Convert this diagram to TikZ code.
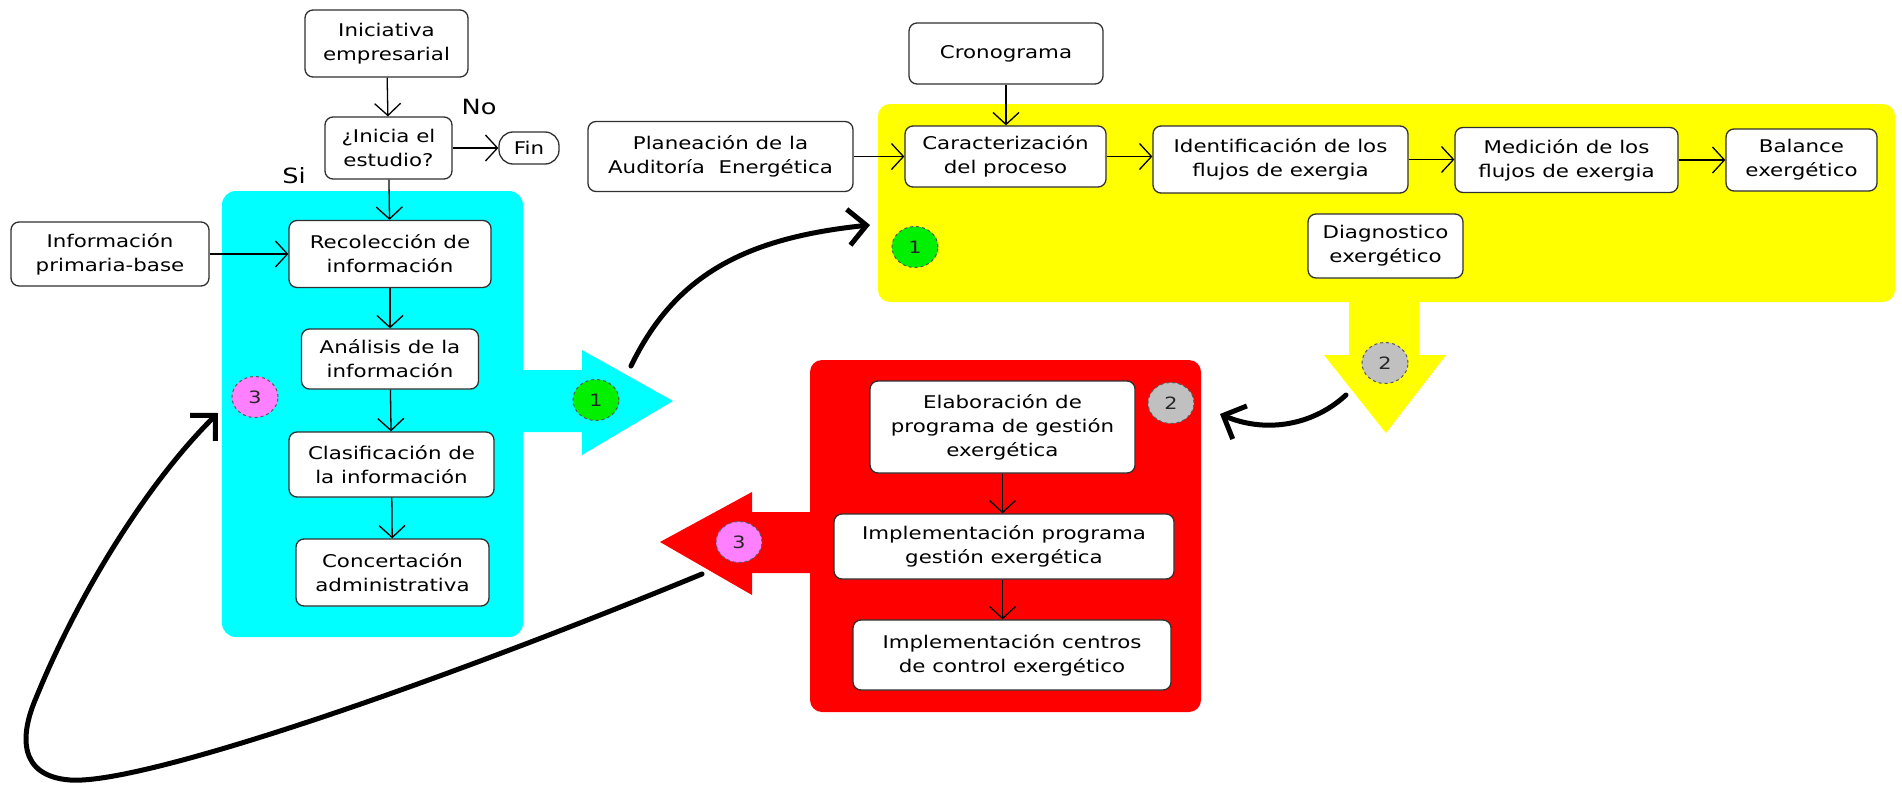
\documentclass[tikz,border=0pt]{standalone}
\usepackage{fontspec}
\setmainfont[FakeStretch=1.22]{DejaVu Sans}
\usetikzlibrary{arrows.meta,shapes.geometric}

\definecolor{panelcyan}{HTML}{00FFFF}
\definecolor{panelyellow}{HTML}{FFFF00}
\definecolor{panelred}{HTML}{FF0000}
\definecolor{markgreen}{HTML}{00F000}
\definecolor{markpink}{HTML}{FF80FF}
\definecolor{markgrey}{HTML}{C0C0C0}
\definecolor{edge}{HTML}{303030}

\begin{document}
\begin{tikzpicture}[x=1pt,y=-1pt,
  box/.style={draw=edge, line width=1.3pt, rounded corners=8pt, fill=white,
    align=center, inner sep=0pt, font=\fontsize{17.5}{24}\selectfont},
  pill/.style={box, rounded corners=14pt},
  link/.style={draw=black, line width=1.3pt,
    -{Straight Barb[length=12pt,width=26pt,line width=1.3pt]}},
  bigcurve/.style={draw=black, line width=5pt, line cap=round,
    -{Straight Barb[length=18pt,width=36pt,line width=5pt]}},
  phasemark/.style={ellipse, draw=black!65, dashed, line width=1pt,
    minimum width=46pt, minimum height=41pt, inner sep=0pt, text=black!85,
    font=\fontsize{17}{17}\selectfont},
  answer/.style={font=\fontsize{21}{21}\selectfont, inner sep=0pt}]

\path[use as bounding box] (0,0) rectangle (1902,784);

% coloured phase panels with their block arrows
\fill[panelcyan, rounded corners=14pt] (222,191) rectangle (523,637);
\fill[panelcyan] (518,370) -- (582,370) -- (582,350) -- (673,401) -- (582,455) -- (582,432) -- (518,432) -- cycle;
\fill[panelyellow, rounded corners=12pt] (878,104) rectangle (1895,302);
\fill[panelyellow] (1349,297) -- (1349,355) -- (1324,355) -- (1386,433) -- (1446,355) -- (1419,355) -- (1419,297) -- cycle;
\fill[panelred, rounded corners=12pt] (810,360) rectangle (1201,712);
\fill[panelred] (815,512) -- (752,512) -- (752,492) -- (660,542) -- (752,595) -- (752,573) -- (815,573) -- cycle;

% phase 1: start and information gathering
\node[box, minimum width=163pt, minimum height=67pt] (ini) at (386.5,43.5) {Iniciativa\\empresarial};
\node[box, minimum width=127pt, minimum height=62pt] (q) at (388.5,148) {¿Inicia el\\estudio?};
\node[pill, minimum width=60pt, minimum height=32pt] (fin) at (529,148) {Fin};
\node[box, minimum width=198pt, minimum height=64pt] (info) at (110,254) {Información\\primaria-base};
\node[box, minimum width=202pt, minimum height=67pt] (rec) at (390,254) {Recolección de\\información};
\node[box, minimum width=177pt, minimum height=60pt] (ana) at (390,359) {Análisis de la\\información};
\node[box, minimum width=205pt, minimum height=65pt] (cla) at (391.5,464.5) {Clasificación de\\la información};
\node[box, minimum width=193pt, minimum height=67pt] (con) at (392.5,572.5) {Concertación\\administrativa};

\node[answer] (no) at (479,107) {No};
\node[answer] (si) at (294,176) {Si};

% phase 2: exergy audit
\node[box, minimum width=194pt, minimum height=61pt] (cro) at (1006,53.5) {Cronograma};
\node[box, minimum width=265pt, minimum height=70pt] (pla) at (720.5,156.5) {Planeación de la\\Auditoría\ \ Energética};
\node[box, minimum width=201pt, minimum height=61pt] (car) at (1005.5,156.5) {Caracterización\\del proceso};
\node[box, minimum width=255pt, minimum height=67pt] (ide) at (1280.5,159.5) {Identificación de los\\flujos de exergia};
\node[box, minimum width=223pt, minimum height=65pt] (med) at (1566.5,160) {Medición de los\\flujos de exergia};
\node[box, minimum width=151pt, minimum height=62pt] (bal) at (1801.5,160) {Balance\\exergético};
\node[box, minimum width=155pt, minimum height=64pt] (dia) at (1385.5,246) {Diagnostico\\exergético};

% phase 3: management programme
\node[box, minimum width=265pt, minimum height=92pt] (ela) at (1002.5,427) {Elaboración de\\programa de gestión\\exergética};
\node[box, minimum width=340pt, minimum height=65pt] (imp) at (1004,546.5) {Implementación programa\\gestión exergética};
\node[box, minimum width=318pt, minimum height=70pt] (cen) at (1012,655) {Implementación centros\\de control exergético};

% flow connectors
\draw[link] (ini) -- (q);
\draw[link] (q.east) -- (fin.west |- q.east);
\draw[link] (q) -- (rec);
\draw[link] (info) -- (rec);
\draw[link] (rec) -- (ana);
\draw[link] (ana) -- (cla);
\draw[link] (cla) -- (con);
\draw[link] (cro.south) -- (cro.south |- car.north);
\draw[link] (pla) -- (car);
\draw[link] (car.east) -- (ide.west |- car.east);
\draw[link] (ide.east) -- (med.west |- ide.east);
\draw[link] (med) -- (bal);
\draw[link] (ela) -- (imp.north -| ela.south);
\draw[link] (imp.south -| ela.south) -- (cen.north -| ela.south);

% phase markers
\node[phasemark, fill=markgreen] (m1a) at (596,400) {1};
\node[phasemark, fill=markpink] (m3a) at (255,397) {3};
\node[phasemark, fill=markgreen] (m1b) at (915,247) {1};
\node[phasemark, fill=markgrey] (m2a) at (1385,363) {2};
\node[phasemark, fill=markgrey] (m2b) at (1171,403) {2};
\node[phasemark, fill=markpink] (m3b) at (739,542) {3};

% hand-drawn transitions between phases
\coordinate (c1s) at (631,366);
\coordinate (c1e) at (870,225);
\coordinate (c2s) at (1346,395);
\coordinate (c2e) at (1220,414);
\coordinate (c3s) at (702,574);
\coordinate (c3b) at (70,780);
\coordinate (c3e) at (218,413);
\draw[bigcurve] (c1s) .. controls (675,275) and (745,238) .. (c1e);
\draw[bigcurve] (c2s) .. controls (1310,428) and (1262,432) .. (c2e);
\draw[bigcurve] (c3s) .. controls (420,690) and (140,785) .. (c3b)
  .. controls (18,776) and (20,735) .. (36,698)
  .. controls (80,590) and (150,480) .. (c3e);

\end{tikzpicture}
\end{document}
